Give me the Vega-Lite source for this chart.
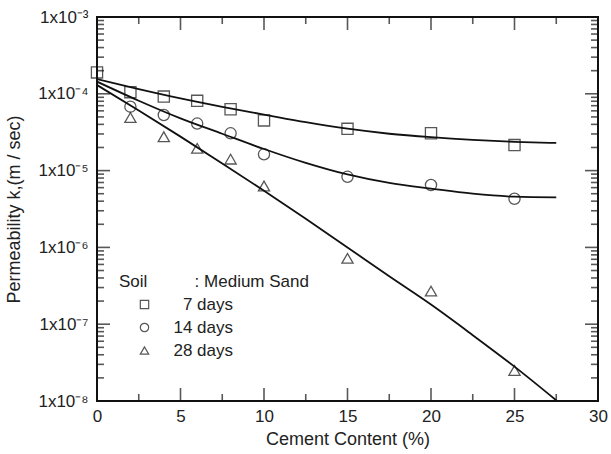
{
  "$schema": "https://vega.github.io/schema/vega-lite/v6.json",
  "width": 501,
  "height": 384,
  "autosize": "none",
  "padding": {"left": 97, "top": 17, "right": 13, "bottom": 53},
  "background": "white",
  "config": {
    "font": "Liberation Sans",
    "view": {"stroke": "#111", "strokeWidth": 2},
    "axis": {"grid": false, "domain": false, "labelColor": "#222", "titleColor": "#222", "labelFontSize": 17, "titleFontSize": 18, "titleFontWeight": "normal"}
  },
  "datasets": {
    "pts": [
      {"series": "7 days", "x": 0, "k": 1.9e-4},
      {"series": "7 days", "x": 2, "k": 1.05e-4},
      {"series": "7 days", "x": 4, "k": 9.2e-5},
      {"series": "7 days", "x": 6, "k": 8.1e-5},
      {"series": "7 days", "x": 8, "k": 6.3e-5},
      {"series": "7 days", "x": 10, "k": 4.5e-5},
      {"series": "7 days", "x": 15, "k": 3.5e-5},
      {"series": "7 days", "x": 20, "k": 3.06e-5},
      {"series": "7 days", "x": 25, "k": 2.15e-5},
      {"series": "14 days", "x": 2, "k": 6.8e-5},
      {"series": "14 days", "x": 4, "k": 5.3e-5},
      {"series": "14 days", "x": 6, "k": 4.1e-5},
      {"series": "14 days", "x": 8, "k": 3.06e-5},
      {"series": "14 days", "x": 10, "k": 1.63e-5},
      {"series": "14 days", "x": 15, "k": 8.3e-6},
      {"series": "14 days", "x": 20, "k": 6.5e-6},
      {"series": "14 days", "x": 25, "k": 4.3e-6},
      {"series": "28 days", "x": 2, "k": 4.9e-5},
      {"series": "28 days", "x": 4, "k": 2.76e-5},
      {"series": "28 days", "x": 6, "k": 1.95e-5},
      {"series": "28 days", "x": 8, "k": 1.41e-5},
      {"series": "28 days", "x": 10, "k": 6.3e-6},
      {"series": "28 days", "x": 15, "k": 7.2e-7},
      {"series": "28 days", "x": 20, "k": 2.7e-7},
      {"series": "28 days", "x": 25, "k": 2.5e-8}
    ],
    "fit": [
      {"series": "7 days", "x": 0, "k": 1.55e-4},
      {"series": "7 days", "x": 2.5, "k": 1.15e-4},
      {"series": "7 days", "x": 5, "k": 8.7e-5},
      {"series": "7 days", "x": 7.5, "k": 6.76e-5},
      {"series": "7 days", "x": 10, "k": 5.37e-5},
      {"series": "7 days", "x": 12.5, "k": 4.27e-5},
      {"series": "7 days", "x": 15, "k": 3.51e-5},
      {"series": "7 days", "x": 17.5, "k": 3.02e-5},
      {"series": "7 days", "x": 20, "k": 2.72e-5},
      {"series": "7 days", "x": 22.5, "k": 2.51e-5},
      {"series": "7 days", "x": 25, "k": 2.37e-5},
      {"series": "7 days", "x": 27.5, "k": 2.29e-5},
      {"series": "14 days", "x": 0, "k": 1.44e-4},
      {"series": "14 days", "x": 2.5, "k": 8.13e-5},
      {"series": "14 days", "x": 5, "k": 4.79e-5},
      {"series": "14 days", "x": 7.5, "k": 3.02e-5},
      {"series": "14 days", "x": 10, "k": 1.91e-5},
      {"series": "14 days", "x": 12.5, "k": 1.26e-5},
      {"series": "14 days", "x": 15, "k": 8.9e-6},
      {"series": "14 days", "x": 17.5, "k": 6.9e-6},
      {"series": "14 days", "x": 20, "k": 5.82e-6},
      {"series": "14 days", "x": 22.5, "k": 5.0e-6},
      {"series": "14 days", "x": 25, "k": 4.57e-6},
      {"series": "14 days", "x": 27.5, "k": 4.47e-6},
      {"series": "28 days", "x": 0, "k": 1.3e-4},
      {"series": "28 days", "x": 2.5, "k": 6.07e-5},
      {"series": "28 days", "x": 5, "k": 2.77e-5},
      {"series": "28 days", "x": 7.5, "k": 1.24e-5},
      {"series": "28 days", "x": 10, "k": 5.47e-6},
      {"series": "28 days", "x": 12.5, "k": 2.36e-6},
      {"series": "28 days", "x": 15, "k": 1.0e-6},
      {"series": "28 days", "x": 17.5, "k": 4.2e-7},
      {"series": "28 days", "x": 20, "k": 1.8e-7},
      {"series": "28 days", "x": 22.5, "k": 7.2e-8},
      {"series": "28 days", "x": 25, "k": 2.8e-8},
      {"series": "28 days", "x": 27.5, "k": 1.02e-8}
    ],
    "xticks": [
      {"v": 0, "kind": "major"}, {"v": 2.5, "kind": "minor"}, {"v": 5, "kind": "major"}, {"v": 7.5, "kind": "minor"},
      {"v": 10, "kind": "major"}, {"v": 12.5, "kind": "minor"}, {"v": 15, "kind": "major"}, {"v": 17.5, "kind": "minor"},
      {"v": 20, "kind": "major"}, {"v": 22.5, "kind": "minor"}, {"v": 25, "kind": "major"}, {"v": 27.5, "kind": "minor"},
      {"v": 30, "kind": "major"}
    ],
    "yticks": [
      {"v": 1e-8, "kind": "major"}, {"v": 1e-7, "kind": "major"}, {"v": 1e-6, "kind": "major"}, {"v": 1e-5, "kind": "major"}, {"v": 1e-4, "kind": "major"}, {"v": 1e-3, "kind": "major"},
      {"v": 2e-8, "kind": "minor"}, {"v": 3e-8, "kind": "minor"}, {"v": 4e-8, "kind": "minor"}, {"v": 5e-8, "kind": "minor"}, {"v": 6e-8, "kind": "minor"}, {"v": 7e-8, "kind": "minor"}, {"v": 8e-8, "kind": "minor"}, {"v": 9e-8, "kind": "minor"},
      {"v": 2e-7, "kind": "minor"}, {"v": 3e-7, "kind": "minor"}, {"v": 4e-7, "kind": "minor"}, {"v": 5e-7, "kind": "minor"}, {"v": 6e-7, "kind": "minor"}, {"v": 7e-7, "kind": "minor"}, {"v": 8e-7, "kind": "minor"}, {"v": 9e-7, "kind": "minor"},
      {"v": 2e-6, "kind": "minor"}, {"v": 3e-6, "kind": "minor"}, {"v": 4e-6, "kind": "minor"}, {"v": 5e-6, "kind": "minor"}, {"v": 6e-6, "kind": "minor"}, {"v": 7e-6, "kind": "minor"}, {"v": 8e-6, "kind": "minor"}, {"v": 9e-6, "kind": "minor"},
      {"v": 2e-5, "kind": "minor"}, {"v": 3e-5, "kind": "minor"}, {"v": 4e-5, "kind": "minor"}, {"v": 5e-5, "kind": "minor"}, {"v": 6e-5, "kind": "minor"}, {"v": 7e-5, "kind": "minor"}, {"v": 8e-5, "kind": "minor"}, {"v": 9e-5, "kind": "minor"},
      {"v": 2e-4, "kind": "minor"}, {"v": 3e-4, "kind": "minor"}, {"v": 4e-4, "kind": "minor"}, {"v": 5e-4, "kind": "minor"}, {"v": 6e-4, "kind": "minor"}, {"v": 7e-4, "kind": "minor"}, {"v": 8e-4, "kind": "minor"}, {"v": 9e-4, "kind": "minor"}
    ]
  },
  "layer": [
    {
      "data": {"name": "fit"},
      "mark": {"type": "line", "interpolate": "monotone", "color": "#111", "strokeWidth": 1.8, "clip": true},
      "encoding": {
        "x": {"field": "x", "type": "quantitative", "scale": {"domain": [0, 30], "nice": false, "zero": false},
          "axis": {"orient": "bottom", "title": "Cement Content (%)", "values": [0, 5, 10, 15, 20, 25, 30], "ticks": false, "labelPadding": 7, "titlePadding": 6, "labelFlush": false}},
        "y": {"field": "k", "type": "quantitative", "scale": {"type": "log", "domain": [1e-8, 1e-3], "nice": false},
          "axis": {"orient": "left", "title": "Permeability k,(m / sec)", "values": [1e-8, 1e-7, 1e-6, 1e-5, 1e-4, 1e-3], "ticks": false, "labelPadding": 9, "titlePadding": 14, "labelBaseline": "middle", "labelFlush": false,
            "labelExpr": "'1x10' + (datum.value < 5e-8 ? '⁻⁸' : datum.value < 5e-7 ? '⁻⁷' : datum.value < 5e-6 ? '⁻⁶' : datum.value < 5e-5 ? '⁻⁵' : datum.value < 5e-4 ? '⁻⁴' : '⁻³')"}},
        "detail": {"field": "series"}
      }
    },
    {
      "data": {"name": "pts"},
      "mark": {"type": "point", "filled": false, "color": "#111", "strokeWidth": 1.3, "size": 125},
      "encoding": {
        "x": {"field": "x", "type": "quantitative", "scale": {"domain": [0, 30], "nice": false, "zero": false}},
        "y": {"field": "k", "type": "quantitative", "scale": {"type": "log", "domain": [1e-8, 1e-3], "nice": false}},
        "shape": {"field": "series", "type": "nominal",
          "scale": {"domain": ["7 days", "14 days", "28 days"], "range": ["square", "circle", "triangle-up"]},
          "legend": {"orient": "none", "legendX": 22, "legendY": 257, "title": "Soil\u2007\u2007\u2007\u2007\u2007: Medium Sand",
            "titleFontSize": 17, "titleFontWeight": "normal", "titleColor": "#222", "titlePadding": 5, "titleLimit": 400,
            "labelFontSize": 17, "labelColor": "#222", "labelAlign": "right", "labelOffset": 80, "symbolOffset": 17, "symbolSize": 70, "symbolStrokeWidth": 1.2, "symbolStrokeColor": "#111", "symbolFillColor": "transparent", "rowPadding": 5, "padding": 0}}
      }
    },
    {
      "data": {"name": "xticks"},
      "mark": {"type": "tick", "orient": "vertical", "color": "#111", "thickness": 1.6, "clip": true},
      "encoding": {
        "x": {"field": "v", "type": "quantitative", "scale": {"domain": [0, 30], "nice": false, "zero": false}},
        "y": {"datum": 1e-8, "type": "quantitative", "scale": {"type": "log", "domain": [1e-8, 1e-3], "nice": false}},
        "size": {"field": "kind", "type": "nominal", "scale": {"domain": ["major", "minor"], "range": [26, 14]}, "legend": null}
      }
    },
    {
      "data": {"name": "xticks"},
      "mark": {"type": "tick", "orient": "vertical", "color": "#111", "thickness": 1.6, "clip": true},
      "encoding": {
        "x": {"field": "v", "type": "quantitative", "scale": {"domain": [0, 30], "nice": false, "zero": false}},
        "y": {"datum": 1e-3, "type": "quantitative", "scale": {"type": "log", "domain": [1e-8, 1e-3], "nice": false}},
        "size": {"field": "kind", "type": "nominal", "scale": {"domain": ["major", "minor"], "range": [26, 14]}, "legend": null}
      }
    },
    {
      "data": {"name": "yticks"},
      "mark": {"type": "tick", "orient": "horizontal", "color": "#111", "thickness": 1.6, "clip": true},
      "encoding": {
        "x": {"datum": 0, "type": "quantitative", "scale": {"domain": [0, 30], "nice": false, "zero": false}},
        "y": {"field": "v", "type": "quantitative", "scale": {"type": "log", "domain": [1e-8, 1e-3], "nice": false}},
        "size": {"field": "kind", "type": "nominal", "scale": {"domain": ["major", "minor"], "range": [26, 14]}, "legend": null}
      }
    },
    {
      "data": {"name": "yticks"},
      "mark": {"type": "tick", "orient": "horizontal", "color": "#111", "thickness": 1.6, "clip": true},
      "encoding": {
        "x": {"datum": 30, "type": "quantitative", "scale": {"domain": [0, 30], "nice": false, "zero": false}},
        "y": {"field": "v", "type": "quantitative", "scale": {"type": "log", "domain": [1e-8, 1e-3], "nice": false}},
        "size": {"field": "kind", "type": "nominal", "scale": {"domain": ["major", "minor"], "range": [26, 14]}, "legend": null}
      }
    }
  ]
}
